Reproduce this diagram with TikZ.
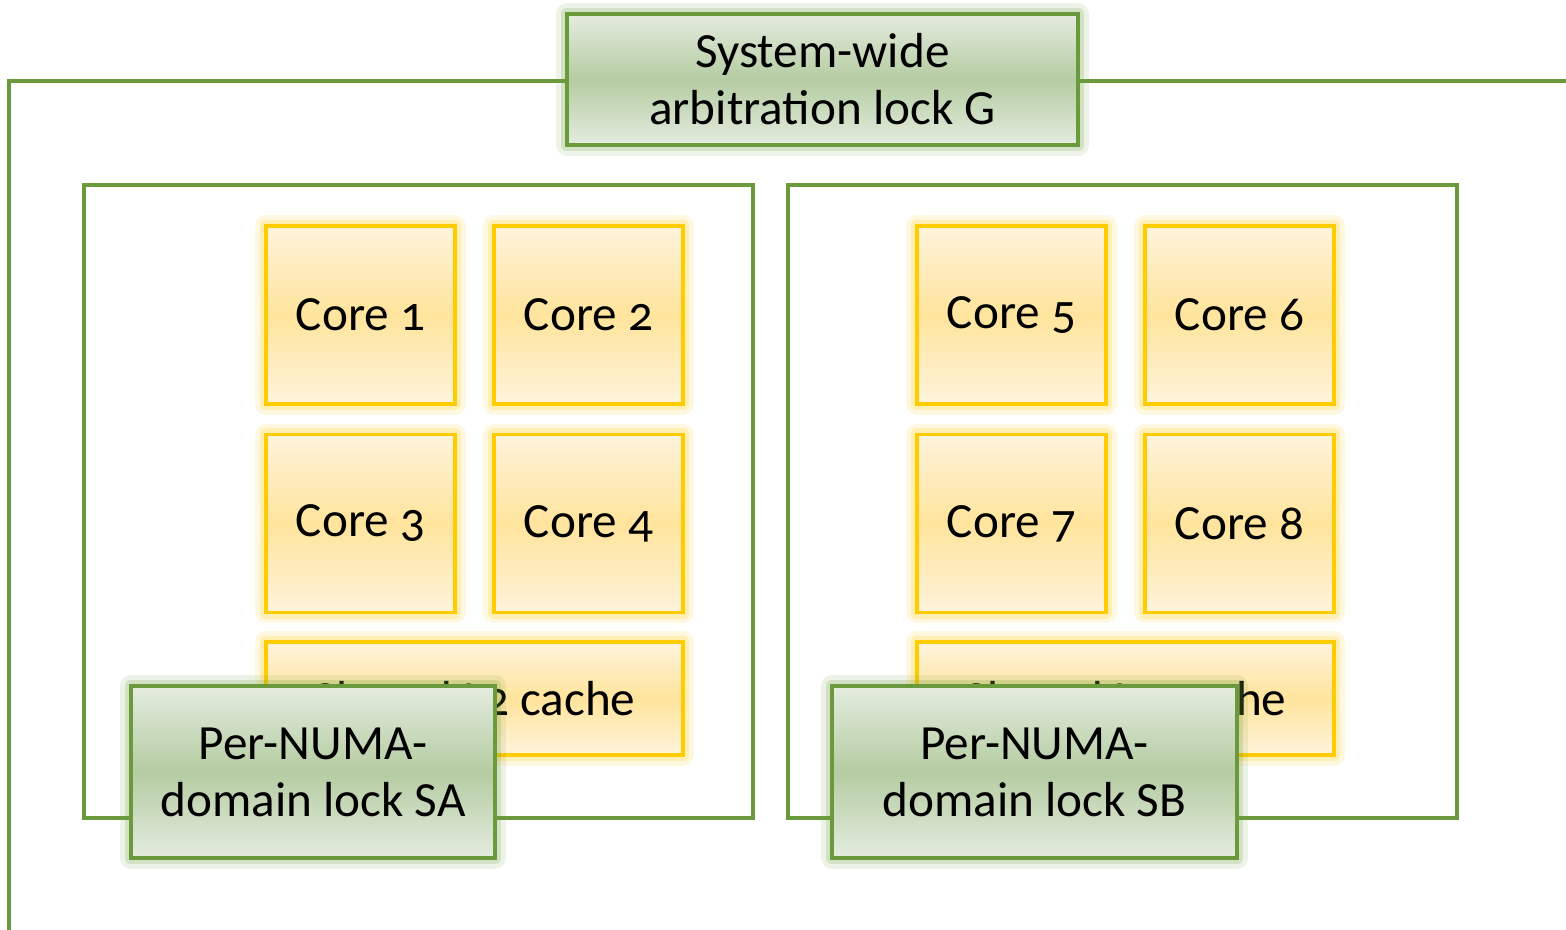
\documentclass[tikz,border=0pt]{standalone}
\usepackage{fontspec}
\setmainfont[Numbers=OldStyle]{Carlito}
\usepackage{tikz}
\usetikzlibrary{calc}
\definecolor{lockline}{HTML}{6B9A3C}
\definecolor{lockmid}{HTML}{B5CCA2}
\definecolor{lockedge}{HTML}{E4ECDF}
\definecolor{coreline}{HTML}{FFCC00}
\definecolor{coremid}{HTML}{FFE49C}
\definecolor{coreedge}{HTML}{FFF4DC}
\tikzstyle{coreglow}=[preaction={draw=coreline,opacity=.12,line width=6pt,line join=round},preaction={draw=coreline,opacity=.2,line width=3.5pt,line join=round}]
\tikzstyle{lockglow}=[preaction={draw=lockline,opacity=.12,line width=6pt,line join=round},preaction={draw=lockline,opacity=.2,line width=3.5pt,line join=round}]
\tikzstyle{corebox}=[coreglow, draw=coreline, line width=1pt, top color=coreedge, bottom color=coreedge, middle color=coremid, inner sep=0pt, font=\fontsize{14}{17}\selectfont]
\tikzstyle{lockbox}=[lockglow, draw=lockline, line width=1pt, top color=lockedge, bottom color=lockedge, middle color=lockmid, inner sep=0pt, align=center, font=\fontsize{14}{16.2}\selectfont]
\tikzstyle{domainbox}=[draw=lockline, line width=1pt, fill=white, inner sep=0pt]
\newcommand{\coreW}{18.9mm}
\newcommand{\coreH}{17.8mm}
\begin{document}
\begin{tikzpicture}[x=0.1mm,y=-0.1mm]
\useasboundingbox (0,0) rectangle (1566,930);
% outer frame, cut by the page edge
\coordinate (gl) at (9,930);
\coordinate (gr) at (1566,81);
\node[lockbox, minimum width=51.1mm, minimum height=13.1mm] (G) at (822.5,79.5) {System-wide\\arbitration lock G};
\draw[lockline, line width=1pt] (G.west |- gr) -| (gl);
\draw[lockline, line width=1pt] (G.east |- gr) -- (gr);
% NUMA domains
\node[domainbox, minimum width=66.9mm, minimum height=63.3mm] (dA) at (418.5,501.5) {};
\node[domainbox, minimum width=66.9mm, minimum height=63.3mm] (dB) at (1122.5,501.5) {};
\foreach \n/\x/\y in {1/360.5/315, 2/588.5/315, 3/360.5/523.5, 4/588.5/523.5,
                      5/1011.5/315, 6/1239.5/315, 7/1011.5/523.5, 8/1239.5/523.5}
  \node[corebox, minimum width=\coreW, minimum height=\coreH] (c\n) at (\x,\y) {Core \n};
\node[corebox, minimum width=41.7mm, minimum height=11.3mm] (cacheA) at (474.5,698.5) {Shared L2 cache};
\node[corebox, minimum width=41.7mm, minimum height=11.3mm] (cacheB) at (1125.5,698.5) {Shared L2 cache};
% per-domain locks
\node[lockbox, minimum width=36.4mm, minimum height=17.2mm] (SA) at (313,772) {Per-NUMA-\\domain lock SA};
\node[lockbox, minimum width=40.5mm, minimum height=17.2mm] (SB) at (1034.5,772) {Per-NUMA-\\domain lock SB};
\end{tikzpicture}
\end{document}
